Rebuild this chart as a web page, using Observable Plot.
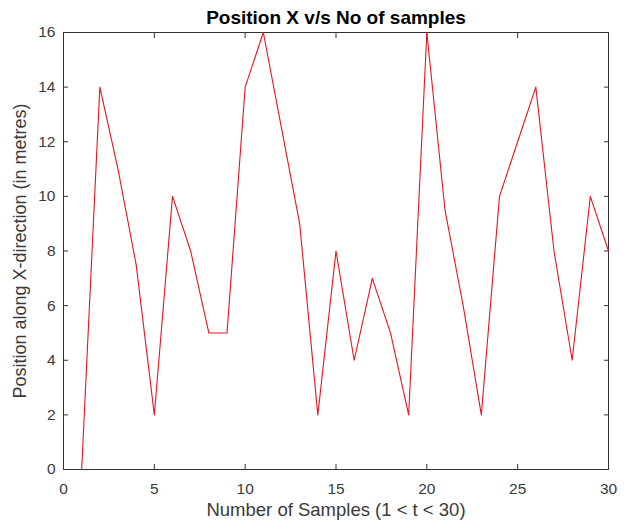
<!DOCTYPE html>
<html>
<head>
<meta charset="utf-8">
<script src="https://cdn.jsdelivr.net/npm/d3@7"></script>
<script src="https://cdn.jsdelivr.net/npm/@observablehq/plot@0.6"></script>
<style>
  html, body { margin: 0; padding: 0; background: #fff; }
</style>
</head>
<body>
<div id="chart"></div>
<script>
const samples = [1,2,3,4,5,6,7,8,9,10,11,12,13,14,15,16,17,18,19,20,21,22,23,24,25,26,27,28,29,30];
const positionX = [0,14,11,7.5,2,10,8,5,5,14,16,12.5,9,2,8,4,7,5,2,16,9.5,6,2,10,12,14,8,4,10,8];
const xTicks = [0,5,10,15,20,25,30];
const yTicks = [0,2,4,6,8,10,12,14,16];
const titleText = "Position X v/s No of samples";
const xLabel = "Number of Samples (1 < t < 30)";
const yLabel = "Position along X-direction (in metres)";

const data = samples.map((s, i) => ({s, v: positionX[i]}));
const font = "'Liberation Sans', Arial, sans-serif";

const chart = Plot.plot({
  width: 634,
  height: 524,
  marginLeft: 63,
  marginRight: 26,
  marginTop: 32,
  marginBottom: 55,
  style: {fontFamily: font, fontSize: "15px", color: "#3a3a3a", background: "#fff"},
  x: {domain: [0, 30]},
  y: {domain: [0, 16]},
  marks: [
    Plot.axisX(xTicks, {anchor: "bottom", tickSize: 0, tickPadding: 13, fontSize: 15.5, fill: "#3a3a3a", label: null}),
    Plot.axisX(xTicks, {anchor: "bottom", tickSize: -5, tickFormat: () => "", label: null, stroke: "#333"}),
    Plot.axisX(xTicks, {anchor: "top", tickSize: -5, tickFormat: () => "", label: null, stroke: "#333"}),
    Plot.axisY(yTicks, {anchor: "left", tickSize: 0, tickPadding: 8, fontSize: 15.5, fill: "#3a3a3a", label: null}),
    Plot.axisY(yTicks, {anchor: "left", tickSize: -5, tickFormat: () => "", label: null, stroke: "#333"}),
    Plot.axisY(yTicks, {anchor: "right", tickSize: -5, tickFormat: () => "", label: null, stroke: "#333"}),
    Plot.frame({stroke: "#333", strokeWidth: 1}),
    Plot.line(data, {x: "s", y: "v", stroke: "#e3161e", strokeWidth: 1.1}),
    Plot.text([titleText], {frameAnchor: "top", dy: -9, fontSize: 19, fontWeight: "bold", fill: "#000", lineAnchor: "bottom"}),
    Plot.text([xLabel], {frameAnchor: "bottom", dy: 46, fontSize: 18.5, fill: "#3a3a3a"}),
    Plot.text([yLabel], {frameAnchor: "left", textAnchor: "middle", dx: -43, rotate: -90, fontSize: 18, fill: "#3a3a3a"})
  ]
});
document.getElementById("chart").appendChild(chart);
</script>
</body>
</html>
